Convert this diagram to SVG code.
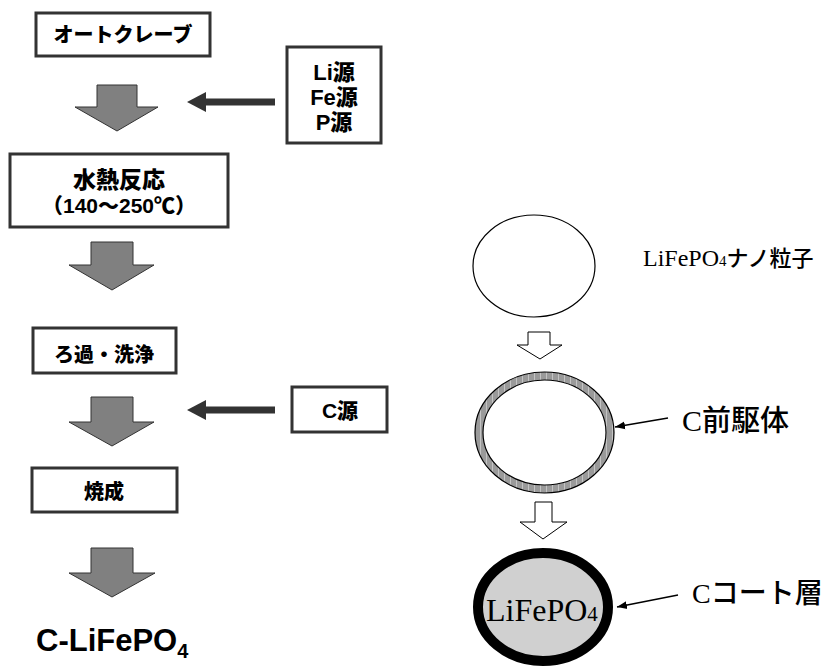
<svg xmlns="http://www.w3.org/2000/svg" width="830" height="668" viewBox="0 0 830 668">
<style>
.box{fill:#fff;stroke:#333;stroke-width:3}
.bt{font-family:"Liberation Sans","Noto Sans CJK JP",sans-serif;font-weight:900;font-size:20px;fill:#000;text-anchor:middle}
.garrow{fill:#808080;stroke:#333;stroke-width:1}
.warrow{fill:#fff;stroke:#000;stroke-width:1}
.dline{stroke:#333;stroke-width:7;fill:none}
.dhead{fill:#333}
.st{font-family:"Liberation Serif","Noto Sans CJK JP",serif;fill:#000}
.jp{font-family:"Noto Sans CJK JP",sans-serif;font-weight:500}
.thin{stroke:#000;stroke-width:1.5;fill:none}
</style>
<defs>
<pattern id="hatch" width="6" height="6" patternUnits="userSpaceOnUse">
<rect width="6" height="6" fill="#9a9a9a"/>
<rect x="0" width="1" height="6" fill="#c4c4c4"/>
</pattern>
<marker id="ah" viewBox="0 0 10 10" refX="10" refY="5" markerWidth="10" markerHeight="10" markerUnits="userSpaceOnUse" orient="auto">
<path d="M0,1 L10,5 L0,9 Z" fill="#000"/>
</marker>
</defs>

<g id="n-autoclave"><rect class="box" x="36" y="13" width="174" height="43"/><text class="bt" x="123" y="42">オートクレーブ</text></g>
<g id="n-sources"><rect class="box" x="287" y="47" width="94" height="96"/>
<text class="bt" x="334" y="80" style="font-size:22px">Li源</text><text class="bt" x="334" y="105" style="font-size:22px">Fe源</text><text class="bt" x="334" y="130" style="font-size:22px">P源</text></g>
<g id="n-hydro"><rect class="box" x="10" y="154" width="218" height="73"/>
<text class="bt" x="119" y="188" style="font-size:23px">水熱反応</text><text class="bt" x="119" y="213" style="font-size:21px">（140～250℃）</text></g>
<g id="n-filter"><rect class="box" x="33" y="328" width="143" height="45"/><text class="bt" x="104" y="362">ろ過・洗浄</text></g>
<g id="n-csource"><rect class="box" x="292" y="387" width="95" height="45"/><text class="bt" x="340" y="418" style="font-size:21px">C源</text></g>
<g id="n-calcine"><rect class="box" x="32" y="468" width="145" height="44"/><text class="bt" x="104" y="499">焼成</text></g>
<g id="n-product"><text x="36" y="651" style="font-family:'Liberation Sans',sans-serif;font-weight:bold;font-size:31px">C-LiFePO<tspan style="font-size:20px" dy="7">4</tspan></text></g>

<g id="n-particle"><ellipse cx="534" cy="266" rx="61" ry="51" fill="#fff" stroke="#000" stroke-width="1.2"/></g>
<g id="n-particle-label"><text class="st" x="643" y="266" style="font-size:24px">LiFePO<tspan style="font-size:15px">4</tspan><tspan class="jp" style="font-size:22px">ナノ粒子</tspan></text></g>
<g id="n-precursor"><ellipse cx="544.5" cy="432.5" rx="65.5" ry="56.5" fill="none" stroke="url(#hatch)" stroke-width="8"/>
<ellipse cx="544.5" cy="432.5" rx="69.5" ry="60.5" fill="none" stroke="#000" stroke-width="1.2"/>
<ellipse cx="544.5" cy="432.5" rx="61.5" ry="52.5" fill="#fff" stroke="#000" stroke-width="1.2"/></g>
<g id="n-precursor-label"><text class="st" x="682" y="431" style="font-size:30px">C<tspan class="jp" style="font-size:29px">前駆体</tspan></text></g>
<g id="n-coated"><ellipse cx="543" cy="607" rx="65" ry="54" fill="#d0d0d0" stroke="#000" stroke-width="10"/>
<text class="st" x="486" y="621" style="font-size:32px">LiFePO<tspan style="font-size:21px">4</tspan></text></g>
<g id="n-coated-label"><text class="st" x="692" y="603" style="font-size:28px">C<tspan class="jp" style="font-size:28px">コート層</tspan></text></g>

<g id="connectors">
<polygon class="garrow" points="97,85 137,85 137,107 158,107 117,131 75,107 97,107"/>
<polygon class="garrow" points="91,242 133,242 133,265 154,265 112,290 69,265 91,265"/>
<polygon class="garrow" points="91,397 133,397 133,422 154,422 112,446 69,422 91,422"/>
<polygon class="garrow" points="91,548 133,548 133,573 155,573 112,597 69,573 91,573"/>
<line class="dline" x1="275" y1="102" x2="203" y2="102"/><polygon class="dhead" points="187,102 206,92 206,112"/>
<line class="dline" x1="275" y1="410" x2="203" y2="410"/><polygon class="dhead" points="187,410 206,400 206,420"/>
<polygon class="warrow" points="528,332 550,332 550,345 562,345 540,359 517,345 528,345"/>
<polygon class="warrow" points="535,502 552,502 552,522 567,522 543,539 520,522 535,522"/>
<line class="thin" x1="668" y1="418" x2="615" y2="427" marker-end="url(#ah)"/>
<line class="thin" x1="678" y1="595" x2="617" y2="607" marker-end="url(#ah)"/>
</g>
</svg>
